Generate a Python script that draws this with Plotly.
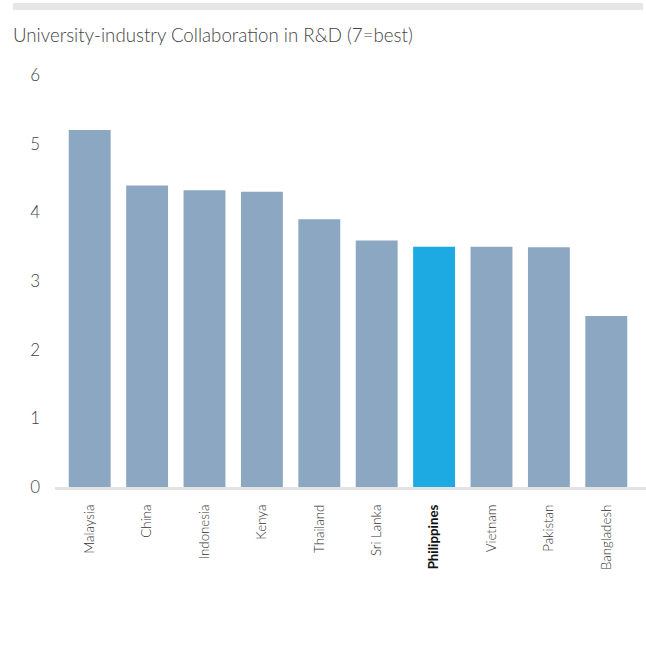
import plotly.graph_objects as go

# --- Data ---
countries = ['Malaysia', 'China', 'Indonesia', 'Kenya', 'Thailand',
             'Sri Lanka', 'Philippines', 'Vietnam', 'Pakistan', 'Bangladesh']
scores = [5.2, 4.39, 4.32, 4.3, 3.9, 3.59, 3.5, 3.5, 3.49, 2.49]
highlight = 'Philippines'
y_ticks = [0, 1, 2, 3, 4, 5, 6]

base_color = '#8CA7C2'
hi_color = '#1DA9E1'
bar_colors = [hi_color if c == highlight else base_color for c in countries]
tick_text = [
    f'<span style="font-family:Lato;font-weight:700;color:#111111">{c}</span>'
    if c == highlight else c
    for c in countries
]

LIGHT = 'Lato Light, Lato, sans-serif'

# plot area in pixels
W, H = 646, 670
L, R, T, B = 61, 635, 75, 487
pw, ph = R - L, B - T


def px_x(x):
    return (x - L) / pw


def px_y(y):
    return (B - y) / ph


fig = go.Figure(go.Bar(
    x=countries,
    y=scores,
    marker=dict(color=bar_colors, line=dict(width=0)),
))

fig.update_layout(
    width=W, height=H,
    margin=dict(l=L, r=W - R, t=T, b=H - B),
    paper_bgcolor='white', plot_bgcolor='white',
    font=dict(family=LIGHT, color='#444444'),
    bargap=0.27,
    showlegend=False,
    title=dict(
        text='University-industry Collaboration in R&D (7=best)',
        x=13 / W, xanchor='left', xref='container',
        y=1 - 35 / H, yanchor='middle', yref='container',
        font=dict(family=LIGHT, size=18.7, color='#444444', weight=300),
    ),
    shapes=[
        # grey band at the top
        dict(type='rect', xref='paper', yref='paper',
             x0=px_x(13), x1=px_x(643), y0=px_y(10), y1=px_y(3),
             fillcolor='#E6E6E6', line=dict(width=0), layer='below'),
        # baseline
        dict(type='rect', xref='paper', yref='paper',
             x0=px_x(55), x1=px_x(646), y0=px_y(490), y1=px_y(487),
             fillcolor='#E3E3E3', line=dict(width=0), layer='below'),
    ],
)

fig.update_xaxes(
    tickvals=countries, ticktext=tick_text,
    tickangle=-90,
    tickfont=dict(family=LIGHT, size=13.3, color='#333333', weight=300),
    showline=False, showgrid=False, ticks='', ticklabelstandoff=14,
)

fig.update_yaxes(
    range=[0, 6], tickvals=y_ticks,
    tickfont=dict(family=LIGHT, size=17, color='#444444', weight=300),
    showgrid=False, zeroline=False, showline=False,
    ticks='', ticklabelstandoff=20,
)

fig.write_html('out.html', config={'displayModeBar': False},
               post_script="document.body.style.margin='0';")
